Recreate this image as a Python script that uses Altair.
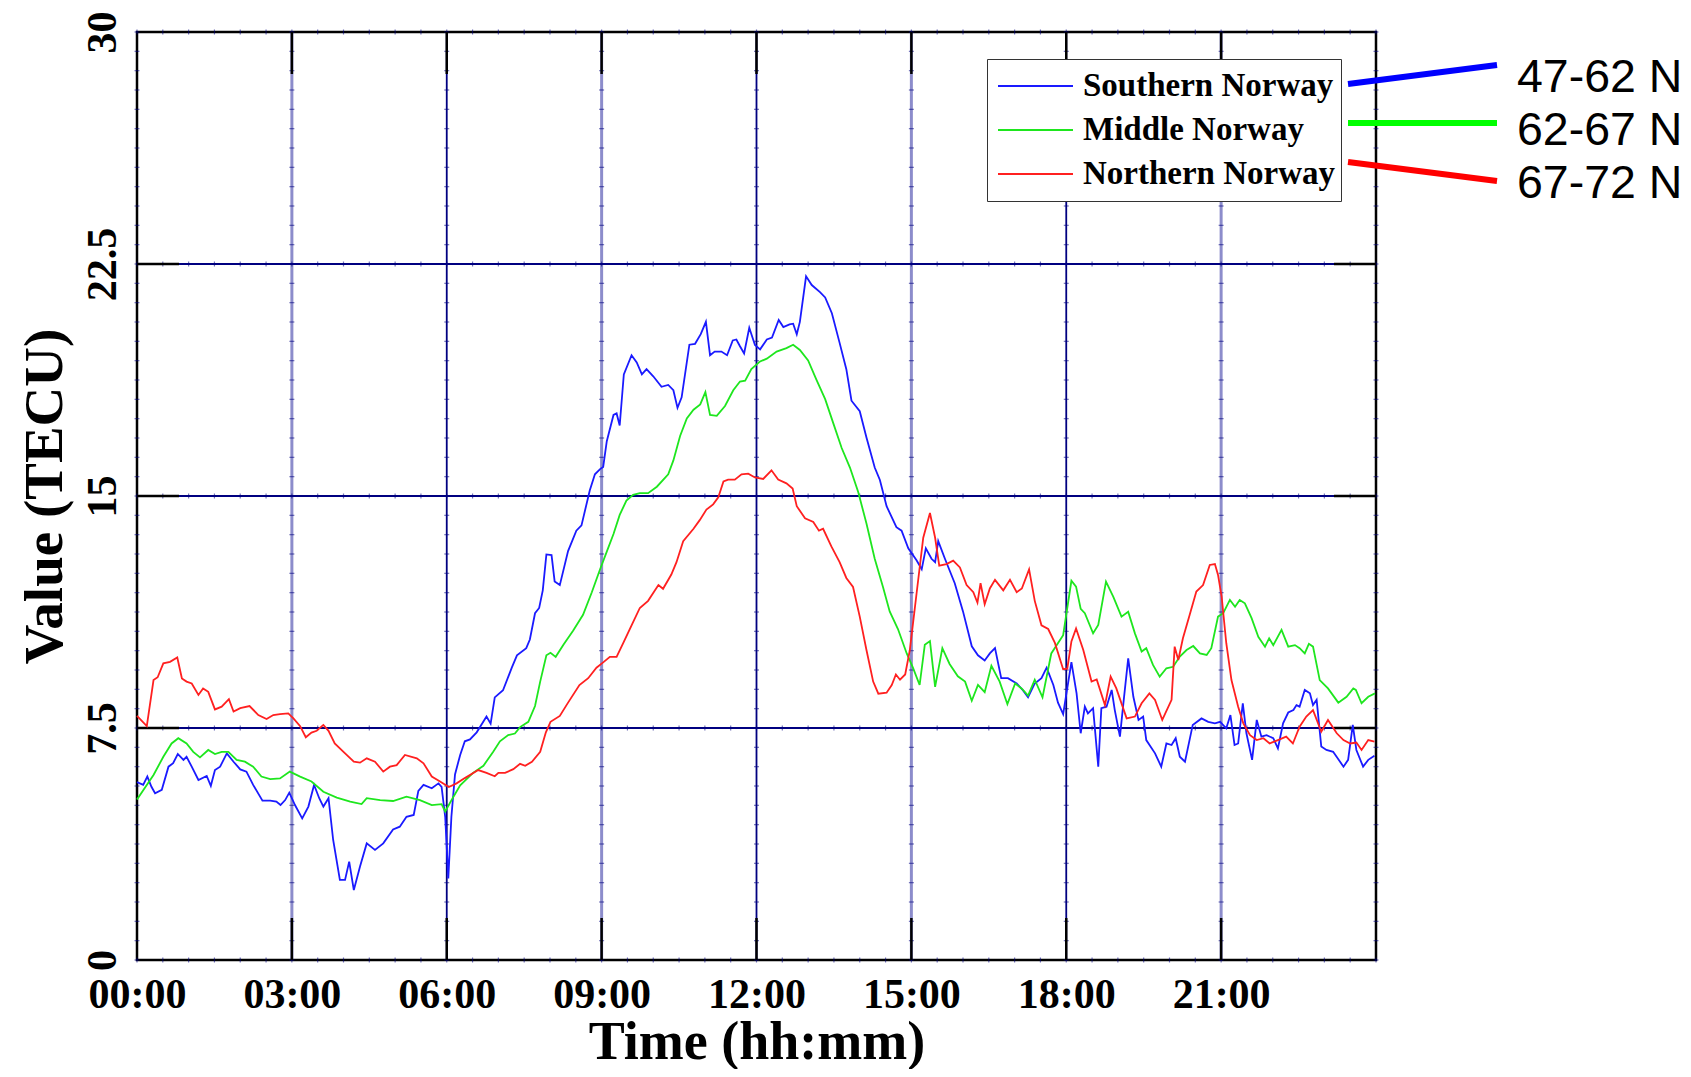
import altair as alt
import pandas as pd

# ---------------- data ----------------
series_names = ["Southern Norway", "Middle Norway", "Northern Norway"]
series_colors = ["#1a1aff", "#1ee61e", "#ff2020"]
band_labels = ["47-62 N", "62-67 N", "67-72 N"]
band_colors = ["#0000ff", "#00ff00", "#ff0000"]

x_tick_values = [0, 3, 6, 9, 12, 15, 18, 21]
y_tick_values = [0, 7.5, 15, 22.5, 30]

south_t = [0.00, 0.12, 0.20, 0.28, 0.35, 0.48, 0.61, 0.70, 0.79, 0.90, 0.96, 1.06, 1.19, 1.35, 1.43, 1.51,
           1.61, 1.74, 1.87, 2.00, 2.12, 2.25, 2.43, 2.58, 2.70, 2.78, 2.87, 2.95, 3.06, 3.20, 3.32, 3.43,
           3.53, 3.61, 3.71, 3.80, 3.93, 4.03, 4.11, 4.20, 4.32, 4.45, 4.61, 4.77, 4.96, 5.09, 5.22, 5.36,
           5.45, 5.55, 5.71, 5.84, 5.90, 5.97, 6.03, 6.09, 6.16, 6.26, 6.35, 6.45, 6.58, 6.77, 6.85, 6.93,
           7.09, 7.26, 7.36, 7.54, 7.61, 7.71, 7.79, 7.86, 7.93, 8.03, 8.09, 8.19, 8.35, 8.51, 8.61, 8.77,
           8.87, 8.97, 9.03, 9.10, 9.23, 9.29, 9.35, 9.43, 9.58, 9.68, 9.78, 9.87, 10.00, 10.16, 10.29, 10.39,
           10.47, 10.55, 10.70, 10.81, 10.92, 11.02, 11.10, 11.19, 11.32, 11.43, 11.54, 11.61, 11.68, 11.76,
           11.86, 11.97, 12.07, 12.20, 12.30, 12.43, 12.52, 12.64, 12.71, 12.78, 12.84, 12.96, 13.07, 13.23,
           13.33, 13.46, 13.61, 13.74, 13.84, 14.00, 14.13, 14.29, 14.39, 14.52, 14.71, 14.81, 14.94, 15.10,
           15.20, 15.28, 15.39, 15.46, 15.52, 15.65, 15.84, 16.00, 16.17, 16.29, 16.42, 16.52, 16.62, 16.74,
           16.87, 17.04, 17.16, 17.26, 17.39, 17.52, 17.62, 17.75, 17.84, 17.94, 18.10, 18.20, 18.28, 18.36,
           18.42, 18.52, 18.62, 18.68, 18.78, 18.88, 18.94, 19.04, 19.10, 19.20, 19.30, 19.40, 19.49, 19.55,
           19.72, 19.84, 19.94, 20.04, 20.12, 20.20, 20.30, 20.45, 20.62, 20.75, 20.88, 20.98, 21.10, 21.18,
           21.26, 21.33, 21.42, 21.49, 21.60, 21.69, 21.78, 21.88, 22.01, 22.10, 22.20, 22.30, 22.40, 22.46,
           22.52, 22.62, 22.72, 22.78, 22.85, 22.94, 23.04, 23.17, 23.37, 23.46, 23.55, 23.62, 23.75, 23.85,
           23.97]
south_v = [5.75, 5.66, 5.93, 5.60, 5.39, 5.50, 6.25, 6.36, 6.66, 6.47, 6.57, 6.25, 5.82, 5.95, 5.63, 6.14,
           6.25, 6.68, 6.41, 6.16, 6.09, 5.66, 5.15, 5.15, 5.12, 5.01, 5.17, 5.41, 5.01, 4.58, 4.96, 5.66,
           5.23, 4.96, 5.23, 3.88, 2.59, 2.59, 3.18, 2.26, 3.02, 3.77, 3.56, 3.77, 4.22, 4.31, 4.63, 4.69,
           5.47, 5.66, 5.55, 5.71, 5.60, 4.63, 2.64, 4.63, 6.00, 6.63, 7.07, 7.13, 7.36, 7.87, 7.64, 8.49,
           8.72, 9.45, 9.85, 10.08, 10.36, 11.21, 11.38, 11.95, 13.11, 13.09, 12.24, 12.12, 13.22, 13.88, 14.05, 15.18,
           15.70, 15.87, 15.94, 16.77, 17.62, 17.67, 17.28, 18.93, 19.55, 19.32, 18.93, 19.10, 18.87, 18.53, 18.59, 18.42,
           17.85, 18.19, 19.89, 19.92, 20.23, 20.63, 19.55, 19.67, 19.67, 19.55, 20.03, 20.06, 19.84, 19.61,
           20.44, 19.88, 19.74, 20.06, 20.12, 20.69, 20.46, 20.55, 20.57, 20.23, 20.63, 22.10, 21.82, 21.59,
           21.42, 20.91, 19.95, 19.10, 18.08, 17.74, 16.89, 15.92, 15.52, 14.67, 13.99, 13.88, 13.31, 12.92,
           12.63, 13.31, 12.97, 12.86, 13.54, 12.97, 12.18, 11.27, 10.14, 9.85, 9.68, 9.91, 10.08, 9.11,
           9.11, 8.94, 8.72, 8.49, 8.94, 9.11, 9.45, 8.89, 8.32, 7.95, 9.63, 8.62, 7.33, 8.19,
           7.97, 8.14, 6.25, 8.14, 8.19, 8.73, 8.08, 7.22, 8.19, 9.75, 8.51, 7.76, 7.87, 7.11,
           6.68, 6.25, 7.00, 6.95, 7.17, 6.57, 6.41, 7.60, 7.81, 7.70, 7.65, 7.70, 7.49, 7.92,
           6.95, 7.00, 8.30, 7.33, 6.47, 7.76, 7.22, 7.27, 7.17, 6.84, 7.65, 8.00, 8.08, 8.24,
           8.19, 8.73, 8.62, 8.24, 8.41, 6.90, 6.79, 6.73, 6.25, 6.47, 7.60, 6.79, 6.25, 6.47,
           6.60]

middle_t = [0.00, 0.32, 0.51, 0.67, 0.80, 0.96, 1.09, 1.22, 1.38, 1.51, 1.64, 1.77, 1.93, 2.09, 2.25, 2.41,
            2.58, 2.77, 2.96, 3.16, 3.38, 3.61, 3.87, 4.13, 4.35, 4.45, 4.71, 4.96, 5.22, 5.48, 5.71, 5.90,
            5.97, 6.13, 6.26, 6.51, 6.71, 6.90, 7.03, 7.19, 7.32, 7.42, 7.58, 7.71, 7.81, 7.93, 8.01, 8.11,
            8.26, 8.45, 8.64, 8.81, 8.97, 9.10, 9.23, 9.35, 9.48, 9.61, 9.74, 9.90, 10.07, 10.29, 10.39, 10.52,
            10.65, 10.78, 10.91, 11.01, 11.10, 11.23, 11.39, 11.55, 11.68, 11.78, 11.90, 12.07, 12.20, 12.39,
            12.58, 12.71, 12.84, 13.00, 13.16, 13.33, 13.49, 13.65, 13.81, 13.97, 14.13, 14.29, 14.45, 14.58,
            14.74, 14.91, 15.03, 15.16, 15.26, 15.36, 15.46, 15.60, 15.74, 15.90, 16.04, 16.17, 16.29, 16.42,
            16.55, 16.71, 16.86, 17.01, 17.14, 17.26, 17.39, 17.54, 17.71, 17.94, 18.10, 18.19, 18.28, 18.36,
            18.52, 18.62, 18.77, 18.91, 19.07, 19.20, 19.33, 19.46, 19.55, 19.68, 19.81, 19.94, 20.07, 20.20,
            20.33, 20.46, 20.59, 20.72, 20.81, 20.94, 21.04, 21.17, 21.27, 21.36, 21.46, 21.59, 21.72, 21.85,
            21.93, 22.01, 22.17, 22.30, 22.43, 22.52, 22.62, 22.70, 22.78, 22.91, 23.07, 23.27, 23.43, 23.56,
            23.61, 23.72, 23.85, 23.98]
middle_v = [5.19, 5.98, 6.57, 7.00, 7.17, 7.00, 6.73, 6.55, 6.79, 6.66, 6.73, 6.73, 6.47, 6.41, 6.25, 5.93,
            5.85, 5.87, 6.09, 5.93, 5.77, 5.44, 5.25, 5.12, 5.04, 5.23, 5.17, 5.14, 5.28, 5.17, 5.01, 5.04,
            4.80, 5.28, 5.65, 6.05, 6.28, 6.73, 7.07, 7.27, 7.32, 7.53, 7.70, 8.21, 9.00, 9.85, 9.93, 9.80,
            10.19, 10.65, 11.16, 11.89, 12.63, 13.20, 13.77, 14.39, 14.85, 15.04, 15.09, 15.09, 15.30, 15.70, 16.15, 16.94,
            17.51, 17.79, 17.96, 18.36, 17.62, 17.59, 17.91, 18.42, 18.70, 18.73, 19.10, 19.35, 19.44, 19.67,
            19.78, 19.89, 19.72, 19.38, 18.76, 18.13, 17.34, 16.55, 15.92, 15.13, 14.11, 12.97, 12.06, 11.27,
            10.70, 9.91, 9.45, 8.89, 10.19, 10.31, 8.83, 10.08, 9.57, 9.17, 9.00, 8.38, 8.89, 8.66,
            9.51, 9.00, 8.27, 8.94, 8.77, 8.55, 9.06, 8.49, 9.91, 10.50, 12.26, 12.07, 11.35, 11.21,
            10.56, 10.83, 12.23, 11.75, 11.10, 11.26, 10.56, 9.97, 10.08, 9.54, 9.16, 9.43, 9.48, 9.81,
            10.02, 10.15, 9.91, 9.86, 10.08, 11.10, 11.21, 11.64, 11.42, 11.64, 11.53, 11.05, 10.45, 10.13,
            10.40, 10.18, 10.67, 10.13, 10.18, 10.08, 9.91, 10.22, 10.13, 9.05, 8.78, 8.32, 8.51, 8.78,
            8.73, 8.30, 8.51, 8.62]

north_t = [0.00, 0.19, 0.32, 0.40, 0.51, 0.64, 0.78, 0.87, 0.96, 1.06, 1.19, 1.28, 1.38, 1.51, 1.64, 1.78,
           1.87, 2.00, 2.18, 2.35, 2.51, 2.64, 2.77, 2.93, 3.03, 3.16, 3.27, 3.38, 3.48, 3.61, 3.71, 3.83,
           4.00, 4.20, 4.32, 4.45, 4.61, 4.77, 4.90, 5.03, 5.19, 5.42, 5.55, 5.71, 5.87, 6.04, 6.19, 6.35,
           6.61, 6.77, 6.93, 7.00, 7.13, 7.29, 7.42, 7.52, 7.65, 7.81, 7.92, 8.01, 8.19, 8.35, 8.57, 8.74,
           8.90, 9.03, 9.16, 9.29, 9.42, 9.58, 9.74, 9.90, 10.10, 10.19, 10.35, 10.45, 10.58, 10.78, 10.90, 11.03,
           11.16, 11.26, 11.36, 11.45, 11.58, 11.71, 11.84, 11.97, 12.13, 12.29, 12.42, 12.58, 12.70, 12.78,
           12.94, 13.10, 13.21, 13.29, 13.45, 13.61, 13.74, 13.87, 14.00, 14.13, 14.26, 14.36, 14.52, 14.62,
           14.70, 14.78, 14.88, 14.97, 15.10, 15.23, 15.36, 15.46, 15.54, 15.68, 15.81, 15.94, 16.07, 16.20,
           16.28, 16.34, 16.42, 16.52, 16.62, 16.78, 16.91, 17.04, 17.14, 17.28, 17.39, 17.52, 17.65, 17.78,
           17.94, 18.02, 18.10, 18.19, 18.33, 18.49, 18.59, 18.75, 18.86, 18.97, 19.17, 19.33, 19.46, 19.61,
           19.72, 19.86, 20.04, 20.10, 20.17, 20.26, 20.39, 20.52, 20.65, 20.78, 20.88, 20.94, 21.01, 21.10,
           21.20, 21.33, 21.43, 21.56, 21.69, 21.82, 21.94, 22.10, 22.26, 22.39, 22.52, 22.65, 22.78, 22.94,
           23.07, 23.24, 23.37, 23.50, 23.62, 23.72, 23.85, 23.97]
north_v = [7.89, 7.56, 9.05, 9.14, 9.59, 9.64, 9.78, 9.10, 9.00, 8.94, 8.57, 8.78, 8.67, 8.10, 8.19, 8.43,
           8.03, 8.14, 8.21, 7.92, 7.79, 7.92, 7.95, 7.97, 7.81, 7.56, 7.20, 7.35, 7.41, 7.60, 7.41, 7.00,
           6.73, 6.41, 6.38, 6.52, 6.41, 6.09, 6.25, 6.30, 6.63, 6.52, 6.36, 5.93, 5.77, 5.59, 5.71, 5.88,
           6.14, 6.05, 5.94, 6.05, 6.05, 6.17, 6.34, 6.28, 6.41, 6.73, 7.36, 7.70, 7.89, 8.32, 8.89, 9.11,
           9.45, 9.62, 9.80, 9.80, 10.25, 10.82, 11.38, 11.61, 12.12, 12.00, 12.46, 12.86, 13.54, 13.94, 14.22, 14.56,
           14.73, 14.96, 15.47, 15.53, 15.53, 15.70, 15.72, 15.60, 15.55, 15.83, 15.53, 15.41, 15.24, 14.67,
           14.28, 14.16, 13.88, 13.94, 13.37, 12.86, 12.35, 12.06, 11.10, 10.02, 9.00, 8.61, 8.64, 8.89,
           9.23, 9.06, 9.23, 10.02, 11.84, 13.65, 14.45, 13.65, 12.75, 12.80, 12.91, 12.69, 12.12, 11.89,
           11.55, 12.18, 11.50, 12.01, 12.29, 11.95, 12.29, 11.89, 12.01, 12.63, 11.61, 10.82, 10.70, 10.25,
           9.40, 9.42, 10.30, 10.72, 10.02, 9.00, 9.07, 8.24, 9.16, 8.78, 7.81, 7.87, 8.30, 8.62,
           8.41, 7.76, 8.41, 10.13, 9.70, 10.40, 11.15, 11.91, 12.12, 12.77, 12.80, 12.45, 11.75, 10.24,
           9.05, 8.19, 7.65, 7.27, 7.11, 7.17, 7.00, 7.11, 7.22, 7.00, 7.54, 7.87, 8.08, 7.38,
           7.76, 7.33, 7.11, 7.00, 7.03, 6.79, 7.11, 7.06]

# ---------------- layout (pixels) ----------------
W, H = 1239, 928          # plot area
TICK = 42                 # inward major tick length
SERIF = "Liberation Serif"
NAVY = "#000080"

rows = []
for name, ts, vs in [(series_names[0], south_t, south_v),
                     (series_names[1], middle_t, middle_v),
                     (series_names[2], north_t, north_v)]:
    for t, v in zip(ts, vs):
        rows.append({"t": t, "v": v, "series": name})
lines_df = pd.DataFrame(rows)

X = alt.X("t:Q",
          scale=alt.Scale(domain=[0, 24], nice=False, zero=False),
          axis=alt.Axis(values=x_tick_values,
                        labelExpr="(datum.value < 10 ? '0' : '') + datum.value + ':00'",
                        grid=False, ticks=False, tickSize=0, domain=False,
                        labelFlush=False, labelOverlap=False,
                        labelFont=SERIF, labelFontSize=42, labelFontWeight="bold",
                        labelColor="black", labelPadding=14,
                        title="Time (hh:mm)", titleFont=SERIF, titleFontSize=54,
                        titleFontWeight="bold", titleColor="black",
                        titleX=W / 2, titleY=98, titleAlign="center",
                        titleBaseline="alphabetic"))
Y = alt.Y("v:Q",
          scale=alt.Scale(domain=[0, 30], nice=False, zero=False),
          axis=alt.Axis(values=y_tick_values,
                        labelExpr="'' + datum.value",
                        grid=False, ticks=False, tickSize=0, domain=False,
                        labelFlush=False, labelOverlap=False,
                        labelFont=SERIF, labelFontSize=42, labelFontWeight="bold",
                        labelColor="black",
                        labelAngle=270, labelAlign="center", labelBaseline="alphabetic",
                        labelPadding=22,
                        title="Value (TECU)", titleFont=SERIF, titleFontSize=55,
                        titleFontWeight="bold", titleColor="black",
                        titleAngle=270, titleX=-76, titleY=H / 2,
                        titleAlign="center", titleBaseline="alphabetic"))

# grid lines
vlight = alt.Chart(pd.DataFrame({"t": [3, 9, 15, 21]})).mark_rule(
    color="#00008b", strokeWidth=3, opacity=0.45).encode(x=X)
vdark = alt.Chart(pd.DataFrame({"t": [6, 12, 18]})).mark_rule(
    color=NAVY, strokeWidth=1.8).encode(x=X)
hgrid = alt.Chart(pd.DataFrame({"v": [7.5, 15, 22.5]})).mark_rule(
    color=NAVY, strokeWidth=2).encode(y=Y)

# minor ticks along grid lines (48 subdivisions on each axis)
minor_h = pd.DataFrame([{"t": i * 0.5, "v": v} for v in y_tick_values for i in range(49)])
minor_v = pd.DataFrame([{"t": t, "v": i * 0.625} for t in x_tick_values + [24] for i in range(49)])
mh = alt.Chart(minor_h).mark_tick(orient="vertical", size=5, thickness=1.2,
                                  color=NAVY, opacity=0.55).encode(x=X, y=Y)
mv = alt.Chart(minor_v).mark_tick(orient="horizontal", size=5, thickness=1.2,
                                  color=NAVY, opacity=0.55).encode(x=X, y=Y)

# inward black major ticks
xt = pd.DataFrame({"t": x_tick_values[1:]})
yt = pd.DataFrame({"v": y_tick_values[1:-1]})
tb = alt.Chart(xt).mark_rule(color="black", strokeWidth=2.5).encode(
    x=X, y=alt.value(H - TICK), y2=alt.value(H))
tt = alt.Chart(xt).mark_rule(color="black", strokeWidth=2.5).encode(
    x=X, y=alt.value(0), y2=alt.value(TICK))
tl = alt.Chart(yt).mark_rule(color="black", strokeWidth=2.5).encode(
    y=Y, x=alt.value(0), x2=alt.value(TICK))
tr = alt.Chart(yt).mark_rule(color="black", strokeWidth=2.5).encode(
    y=Y, x=alt.value(W - TICK), x2=alt.value(W))

lines = alt.Chart(lines_df).mark_line(strokeWidth=1.8).encode(
    x=X, y=Y,
    color=alt.Color("series:N",
                    scale=alt.Scale(domain=series_names, range=series_colors),
                    legend=alt.Legend(orient="none", legendX=850, legendY=27, title=None,
                                      symbolType="stroke", symbolSize=5625,
                                      symbolStrokeWidth=2, symbolOffset=5,
                                      labelFont=SERIF, labelFontSize=33,
                                      labelFontWeight="bold",
                                      labelColor="black", labelLimit=500,
                                      labelOffset=9, clipHeight=44, rowPadding=0,
                                      padding=5, fillColor="white",
                                      strokeColor="#333333")),
    order="t:Q")

# annotation: latitude bands outside the plot
ann_layers = []
seg = [((1211, 52), (1360, 33)), ((1211, 91), (1360, 91)), ((1211, 130), (1360, 149))]
lab_y = [60, 113, 166]
for (p0, p1), c, lab, ly in zip(seg, band_colors, band_labels, lab_y):
    ann_layers.append(alt.Chart(pd.DataFrame({"k": [0]})).mark_rule(
        color=c, strokeWidth=6).encode(
        x=alt.value(p0[0]), y=alt.value(p0[1]), x2=alt.value(p1[0]), y2=alt.value(p1[1])))
    ann_layers.append(alt.Chart(pd.DataFrame({"k": [0]})).mark_text(
        text=lab, font="Liberation Sans", fontSize=46.5, align="left",
        baseline="alphabetic", color="black").encode(
        x=alt.value(1380), y=alt.value(ly)))

chart = alt.layer(vlight, vdark, hgrid, mh, mv, tb, tt, tl, tr, lines, *ann_layers).properties(
    width=W, height=H,
    padding={"left": 129, "top": 24, "right": 307, "bottom": 109},
    autosize=alt.AutoSizeParams(type="none"),
    background="white",
).configure_view(stroke="black", strokeWidth=2.5)

chart.save("out.html", embed_options={"renderer": "svg", "actions": False})
